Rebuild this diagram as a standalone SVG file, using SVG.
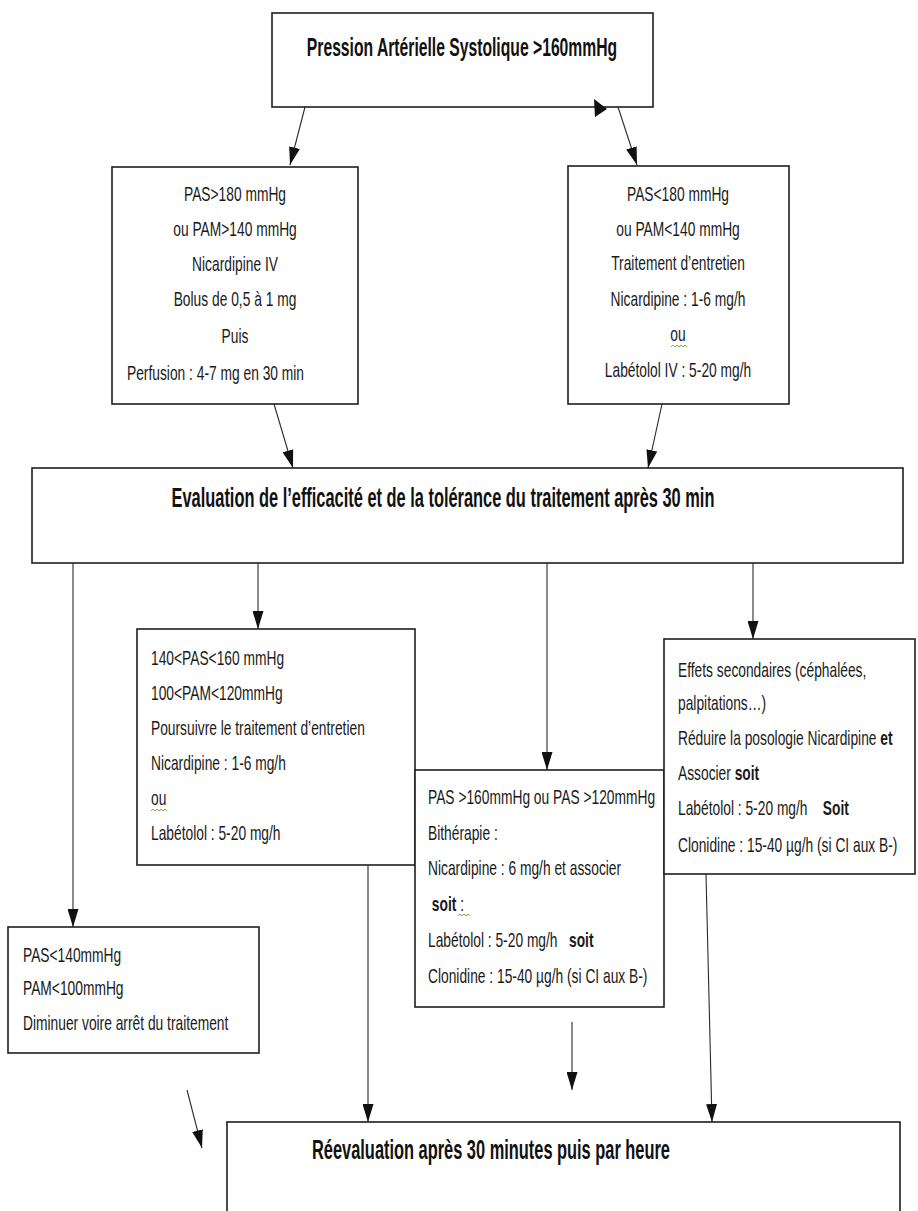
<svg xmlns="http://www.w3.org/2000/svg" width="918" height="1211" viewBox="0 0 918 1211">
<style>
  .bg{fill:#ffffff}
  .box{fill:#ffffff;stroke:#1e1e1e;stroke-width:1.6}
  .t{font-family:"Liberation Sans",Arial,sans-serif;font-size:13.8px;fill:#1a1a1a;white-space:pre}
  .b{font-family:"Liberation Sans",Arial,sans-serif;font-weight:bold;fill:#111111}
  .c{text-anchor:middle}
  .w{fill:none;stroke:#7fae3a;stroke-width:1}
  .con line{stroke:#2a2a2a;stroke-width:1.1;marker-end:url(#ah)}
</style>
<defs>
  <marker id="ah" markerUnits="userSpaceOnUse" markerWidth="18" markerHeight="11" viewBox="0 0 18 11" refX="18" refY="5.5" orient="auto">
    <path d="M0,0 L18,5.5 L0,11 z" fill="#111111"/>
  </marker>
</defs>
<rect class="bg" x="0" y="0" width="918" height="1211"/>

<g id="n-top">
  <rect class="box" x="272" y="13" width="381" height="94"/>
  <text class="b c" font-size="15.7" transform="translate(462,56) scale(1,1.65)">Pression Artérielle Systolique &gt;160mmHg</text>
</g>

<g id="n-left">
  <rect class="box" x="112" y="167" width="246" height="237"/>
  <text class="t c" transform="translate(235,201) scale(1,1.45)">PAS&gt;180 mmHg</text>
  <text class="t c" transform="translate(235,236) scale(1,1.45)">ou PAM&gt;140 mmHg</text>
  <text class="t c" transform="translate(235,271) scale(1,1.45)">Nicardipine IV</text>
  <text class="t c" transform="translate(235,306) scale(1,1.45)">Bolus de 0,5 à 1 mg</text>
  <text class="t c" transform="translate(235,343) scale(1,1.45)">Puis</text>
  <text class="t" transform="translate(127,380) scale(1,1.45)">Perfusion : 4-7 mg en 30 min</text>
</g>

<g id="n-right">
  <rect class="box" x="568" y="166" width="221" height="238"/>
  <text class="t c" transform="translate(678,201) scale(1,1.45)">PAS&lt;180 mmHg</text>
  <text class="t c" transform="translate(678,236) scale(1,1.45)">ou PAM&lt;140 mmHg</text>
  <text class="t c" transform="translate(678,270) scale(1,1.45)">Traitement d’entretien</text>
  <text class="t c" transform="translate(678,306) scale(1,1.45)">Nicardipine : 1-6 mg/h</text>
  <text class="t c" transform="translate(678,341) scale(1,1.45)">ou</text>
  <path class="w" d="M671,347 l2,-2 l2,2 l2,-2 l2,2 l2,-2 l2,2 l2,-2 l2,2"/>
  <text class="t c" transform="translate(678,377) scale(1,1.45)">Labétolol IV : 5-20 mg/h</text>
</g>

<g id="n-eval">
  <rect class="box" x="32" y="468" width="871" height="95"/>
  <text class="b c" font-size="16.4" transform="translate(443,507) scale(1,1.65)">Evaluation de l’efficacité et de la tolérance du traitement après 30 min</text>
</g>

<g id="n-mid-left">
  <rect class="box" x="137" y="629" width="278" height="236"/>
  <text class="t" transform="translate(151,665) scale(1,1.45)">140&lt;PAS&lt;160 mmHg</text>
  <text class="t" transform="translate(151,700) scale(1,1.45)">100&lt;PAM&lt;120mmHg</text>
  <text class="t" transform="translate(151,735) scale(1,1.45)">Poursuivre le traitement d’entretien</text>
  <text class="t" transform="translate(151,770) scale(1,1.45)">Nicardipine : 1-6 mg/h</text>
  <text class="t" transform="translate(151,805) scale(1,1.45)">ou</text>
  <path class="w" d="M151,811 l2,-2 l2,2 l2,-2 l2,2 l2,-2 l2,2 l2,-2 l2,2"/>
  <text class="t" transform="translate(151,840) scale(1,1.45)">Labétolol : 5-20 mg/h</text>
</g>

<g id="n-mid">
  <rect class="box" x="415" y="770" width="249" height="237"/>
  <text class="t" transform="translate(428,804) scale(1,1.45)">PAS &gt;160mmHg ou PAS &gt;120mmHg</text>
  <text class="t" transform="translate(428,840) scale(1,1.45)">Bithérapie :</text>
  <text class="t" transform="translate(428,875) scale(1,1.45)">Nicardipine : 6 mg/h et associer</text>
  <text class="t" xml:space="preserve" transform="translate(428,911) scale(1,1.45)"> <tspan font-weight="bold">soit</tspan> :</text>
  <path class="w" d="M458,916 l2,-2 l2,2 l2,-2 l2,2 l2,-2 l2,2"/>
  <text class="t" xml:space="preserve" transform="translate(428,947) scale(1,1.45)">Labétolol : 5-20 mg/h   <tspan font-weight="bold">soit</tspan></text>
  <text class="t" transform="translate(428,983) scale(1,1.45)">Clonidine : 15-40 µg/h (si CI aux B-)</text>
</g>

<g id="n-side">
  <rect class="box" x="664" y="639" width="251" height="235"/>
  <text class="t" transform="translate(678,677) scale(1,1.45)">Effets secondaires (céphalées,</text>
  <text class="t" transform="translate(678,710) scale(1,1.45)">palpitations…)</text>
  <text class="t" xml:space="preserve" transform="translate(678,745) scale(1,1.45)">Réduire la posologie Nicardipine <tspan font-weight="bold">et</tspan></text>
  <text class="t" xml:space="preserve" transform="translate(678,780) scale(1,1.45)">Associer <tspan font-weight="bold">soit</tspan></text>
  <text class="t" xml:space="preserve" transform="translate(678,815) scale(1,1.45)">Labétolol : 5-20 mg/h    <tspan font-weight="bold">Soit</tspan></text>
  <text class="t" transform="translate(678,852) scale(1,1.45)">Clonidine : 15-40 µg/h (si CI aux B-)</text>
</g>

<g id="n-low">
  <rect class="box" x="8" y="927" width="251" height="126"/>
  <text class="t" transform="translate(23,962) scale(1,1.45)">PAS&lt;140mmHg</text>
  <text class="t" transform="translate(23,995) scale(1,1.45)">PAM&lt;100mmHg</text>
  <text class="t" transform="translate(23,1030) scale(1,1.45)">Diminuer voire arrêt du traitement</text>
</g>

<g id="n-reeval">
  <rect class="box" x="227" y="1122" width="673" height="100"/>
  <text class="b c" font-size="16.4" transform="translate(491,1159) scale(1,1.65)">Réevaluation après 30 minutes puis par heure</text>
</g>

<g id="connectors" class="con">
  <line x1="305" y1="107" x2="290" y2="165"/>
  <line x1="618" y1="107" x2="637" y2="165"/>
  <line x1="274" y1="404" x2="293" y2="468"/>
  <line x1="662" y1="404" x2="648" y2="468"/>
  <line x1="73" y1="563" x2="73" y2="927"/>
  <line x1="258" y1="563" x2="258" y2="629"/>
  <line x1="547" y1="563" x2="547" y2="770"/>
  <line x1="753" y1="563" x2="753" y2="639"/>
  <line x1="368" y1="865" x2="368" y2="1122"/>
  <line x1="572" y1="1022" x2="572" y2="1090"/>
  <line x1="706" y1="874" x2="712" y2="1122"/>
  <line x1="187" y1="1090" x2="202" y2="1148"/>
  <polygon points="594,99 607,109 595,117" fill="#111111"/>
</g>
</svg>
